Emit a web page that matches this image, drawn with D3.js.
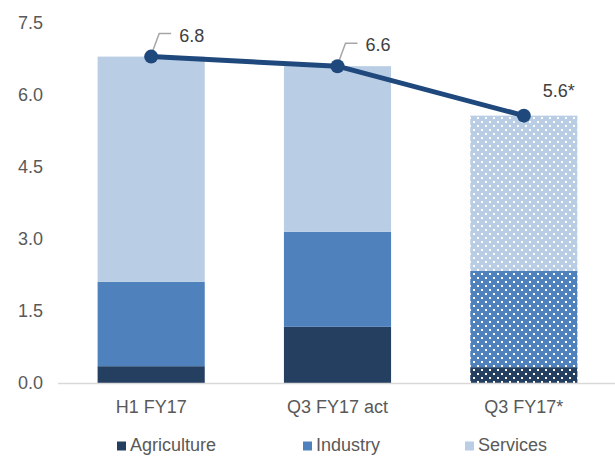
<!DOCTYPE html>
<html>
<head>
<meta charset="utf-8">
<script src="https://cdn.jsdelivr.net/npm/d3@7"></script>
<style>
  body { margin: 0; background: #fff; }
  text { font-family: "Liberation Sans", Arial, sans-serif; }
</style>
</head>
<body>
<div id="chart"></div>
<script>
const WIDTH = 615;
const HEIGHT = 456;

// data
const categories = ["H1 FY17", "Q3 FY17 act", "Q3 FY17*"];
const agriculture = [0.35, 1.17, 0.33];
const industry = [1.76, 1.98, 2.01];
const services = [4.69, 3.45, 3.23];
const totals = [6.8, 6.6, 5.57];
const totalLabels = ["6.8", "6.6", "5.6*"];
const yTicks = [0, 1.5, 3.0, 4.5, 6.0, 7.5];
const seriesNames = ["Agriculture", "Industry", "Services"];
const seriesColors = ["#243F60", "#4F81BD", "#B9CDE5"];
const forecastIndex = 2;

function setup(){
    let svg = d3.select("#chart")
        .append("svg")
        .attr("width",WIDTH)
        .attr("height",HEIGHT);

    let x = d3.scaleBand()
        .domain(categories)
        .range([58,617])
        .paddingInner(0.425)
        .paddingOuter(0.2125);
    let y = d3.scaleLinear()
        .domain([0,7.5])
        .range([383,23]);

    // dotted patterns for the forecast bar
    let defs = svg.append("defs");
    seriesColors.forEach((c,i) => {
        let p = defs.append("pattern")
            .attr("id","dots"+i)
            .attr("patternUnits","userSpaceOnUse")
            .attr("width",8)
            .attr("height",8);
        p.append("rect").attr("width",8).attr("height",8).attr("fill",c);
        p.append("rect").attr("x",1).attr("y",1).attr("width",2).attr("height",2).attr("fill","#fff");
        p.append("rect").attr("x",5).attr("y",5).attr("width",2).attr("height",2).attr("fill","#fff");
    });

    // y axis labels
    let yAxis = d3.axisLeft(y)
        .tickValues(yTicks)
        .tickFormat(d3.format(".1f"))
        .tickSize(0)
        .tickPadding(0);
    let gy = svg.append("g")
        .attr("transform","translate(43,0)")
        .call(yAxis);
    gy.select(".domain").remove();
    gy.selectAll("text")
        .attr("font-size",18)
        .attr("fill","#595959")
        .attr("font-family","Liberation Sans, Arial, sans-serif");

    // stacked bars
    let rows = categories.map((c,i) => ({
        cat: c, idx: i,
        Agriculture: agriculture[i],
        Industry: industry[i],
        Services: services[i]
    }));
    let stack = d3.stack().keys(seriesNames)(rows);

    stack.forEach((layer,si) => {
        svg.append("g")
            .selectAll("rect")
            .data(layer)
            .enter()
            .append("rect")
            .attr("x",d => x(d.data.cat))
            .attr("width",x.bandwidth())
            .attr("y",d => y(d[1]))
            .attr("height",d => y(d[0]) - y(d[1]))
            .attr("fill",d => d.data.idx === forecastIndex ? `url(#dots${si})` : seriesColors[si]);
    });

    // baseline
    svg.append("line")
        .attr("x1",58).attr("x2",615)
        .attr("y1",y(0)+0.5).attr("y2",y(0)+0.5)
        .attr("stroke","#d9d9d9")
        .attr("stroke-width",1.5);

    // x axis labels
    let xAxis = d3.axisBottom(x).tickSize(0).tickPadding(0);
    let gx = svg.append("g")
        .attr("transform","translate(0,413)")
        .call(xAxis);
    gx.select(".domain").remove();
    gx.selectAll("text")
        .attr("y",0)
        .attr("dy",0)
        .attr("font-size",18)
        .attr("fill","#595959")
        .attr("font-family","Liberation Sans, Arial, sans-serif");

    // total line
    let cx = d => x(d) + x.bandwidth()/2;
    let line = d3.line()
        .x((d,i) => cx(categories[i]))
        .y(d => y(d));
    svg.append("path")
        .datum(totals)
        .attr("d",line)
        .attr("fill","none")
        .attr("stroke","#1F497D")
        .attr("stroke-width",5);

    // leader lines for first two labels
    totals.forEach((t,i) => {
        if (i === forecastIndex) return;
        let px = cx(categories[i]), py = y(t);
        svg.append("polyline")
            .attr("points",`${px+1},${py-4} ${px+8},${py-23} ${px+20},${py-23}`)
            .attr("fill","none")
            .attr("stroke","#a6a6a6")
            .attr("stroke-width",1.5);
    });

    svg.selectAll(".dot")
        .data(totals)
        .enter()
        .append("circle")
        .attr("class","dot")
        .attr("cx",(d,i) => cx(categories[i]))
        .attr("cy",d => y(d))
        .attr("r",7)
        .attr("fill","#1F497D");

    svg.selectAll(".lbl")
        .data(totals)
        .enter()
        .append("text")
        .attr("class","lbl")
        .attr("x",(d,i) => cx(categories[i]) + (i === forecastIndex ? 19 : 28))
        .attr("y",(d,i) => y(d) + (i === forecastIndex ? -19 : -15))
        .attr("font-size",18)
        .attr("fill","#404040")
        .text((d,i) => totalLabels[i]);

    // legend
    let legendX = [117, 303, 465];
    let legend = svg.append("g");
    seriesNames.forEach((s,i) => {
        legend.append("rect")
            .attr("x",legendX[i]).attr("y",441.5)
            .attr("width",9).attr("height",9)
            .attr("fill",seriesColors[i]);
        legend.append("text")
            .attr("x",legendX[i]+13).attr("y",451)
            .attr("font-size",18)
            .attr("fill","#595959")
            .text(s);
    });
}

window.addEventListener("load",setup);
</script>
</body>
</html>
